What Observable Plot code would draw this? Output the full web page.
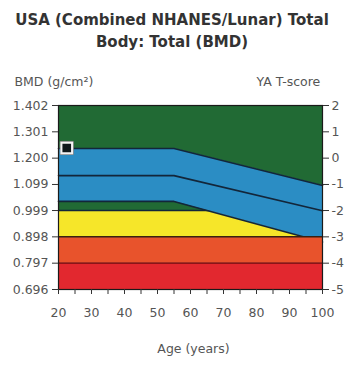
<!DOCTYPE html>
<html>
<head>
<meta charset="utf-8">
<script src="https://cdn.jsdelivr.net/npm/d3@7"></script>
<script src="https://cdn.jsdelivr.net/npm/@observablehq/plot@0.6"></script>
<style>
  html, body { margin: 0; padding: 0; background: #fff; width: 344px; height: 370px; overflow: hidden; }
  #title { font-family: "DejaVu Sans", sans-serif; font-weight: bold; font-size: 15px; color: #333;
           text-align: center; line-height: 22px; padding-top: 9px; height: 47px; white-space: nowrap; }
  svg { display: block; }
</style>
</head>
<body>
<div id="title">USA (Combined NHANES/Lunar) Total<br>Body: Total (BMD)</div>
<div id="chart"></div>
<script>
// Reference curve ages and BMD values (g/cm²)
const ages = [20, 55, 100];
const upperBMD = [1.237, 1.237, 1.095];
const meanBMD  = [1.133, 1.133, 0.998];
const lowerBMD = [1.034, 1.034, 0.878];

// Axis tick labels
const bmdTicks = [0.696, 0.797, 0.898, 0.999, 1.099, 1.200, 1.301, 1.402];
const tScoreTicks = ["-5", "-4", "-3", "-2", "-1", "0", "1", "2"];
const ageTicks = [20, 30, 40, 50, 60, 70, 80, 90, 100];
const minorAgeTicks = [25, 35, 45, 55, 65, 75, 85, 95];

// Patient measurement
const patientAge = [22.5];
const patientBMD = [1.239];

const curves = ages.map((a, i) => ({age: a, upper: upperBMD[i], mean: meanBMD[i], lower: lowerBMD[i]}));
const patient = patientAge.map((a, i) => ({age: a, bmd: patientBMD[i]}));
const ageExt = d3.extent(ageTicks);

const GREEN = "#216a34", BLUE = "#2b8dc4", YELLOW = "#f6e629", ORANGE = "#e8532c", RED = "#e2282f", LINE = "#13263a";

const band = (lo, hi, fill) => Plot.rect([0], {x1: ageExt[0], x2: ageExt[1], y1: lo, y2: hi, fill});

const chart = Plot.plot({
  width: 344,
  height: 314,
  marginTop: 49,
  marginBottom: 81,
  marginLeft: 58,
  marginRight: 22,
  style: {fontFamily: "DejaVu Sans, sans-serif", fontSize: "12.5px", color: "#555", background: "transparent"},
  x: {domain: ageExt},
  y: {domain: [bmdTicks[0], bmdTicks[bmdTicks.length - 1]]},
  marks: [
    band(bmdTicks[0], bmdTicks[bmdTicks.length - 1], GREEN),
    band(bmdTicks[2], bmdTicks[3], YELLOW),
    Plot.ruleY([bmdTicks[3]], {stroke: LINE, strokeWidth: 1.5}),
    Plot.areaY(curves, {x: "age", y1: "lower", y2: "upper", fill: BLUE}),
    Plot.line(curves, {x: "age", y: "upper", stroke: LINE, strokeWidth: 1.6}),
    Plot.line(curves, {x: "age", y: "mean", stroke: LINE, strokeWidth: 1.6}),
    Plot.line(curves, {x: "age", y: "lower", stroke: LINE, strokeWidth: 1.6}),
    band(bmdTicks[1], bmdTicks[2], ORANGE),
    band(bmdTicks[0], bmdTicks[1], RED),
    Plot.ruleY([bmdTicks[2]], {stroke: "#3a2010", strokeWidth: 1.5}),
    Plot.ruleY([bmdTicks[1]], {stroke: "#8a1418", strokeWidth: 1.5}),
    Plot.frame({stroke: "#1a1a1a", strokeWidth: 1.2}),
    Plot.axisY(bmdTicks, {anchor: "left", tickSize: 6, tickPadding: 4, tickFormat: d3.format(".3f"), label: null, stroke: "#333"}),
    Plot.axisY(bmdTicks, {anchor: "right", tickSize: 6, tickPadding: 3, tickFormat: d => tScoreTicks[bmdTicks.indexOf(d)], label: null, stroke: "#333"}),
    Plot.axisX(ageTicks, {anchor: "bottom", tickSize: 5, tickPadding: 14, label: null, stroke: "#333"}),
    Plot.axisX(minorAgeTicks, {anchor: "bottom", tickSize: 5, tickFormat: () => "", label: null, stroke: "#333"}),
    Plot.dot(patient, {x: "age", y: "bmd", symbol: "square", r: 7.4, fill: "none", stroke: "#888", strokeWidth: 1}),
    Plot.dot(patient, {x: "age", y: "bmd", symbol: "square", r: 6, fill: "#10191c", stroke: "#f4f4f4", strokeWidth: 2}),
    Plot.text(["BMD (g/cm²)"], {frameAnchor: "top-left", dx: -44, dy: -28, textAnchor: "start", fill: "#555"}),
    Plot.text(["YA T-score"], {frameAnchor: "top-right", dx: -66, dy: -28, textAnchor: "start", fill: "#555"}),
    Plot.text(["Age (years)"], {frameAnchor: "bottom", dx: 3, dy: 63, fill: "#555"})
  ]
});
document.getElementById("chart").appendChild(chart);
</script>
</body>
</html>
